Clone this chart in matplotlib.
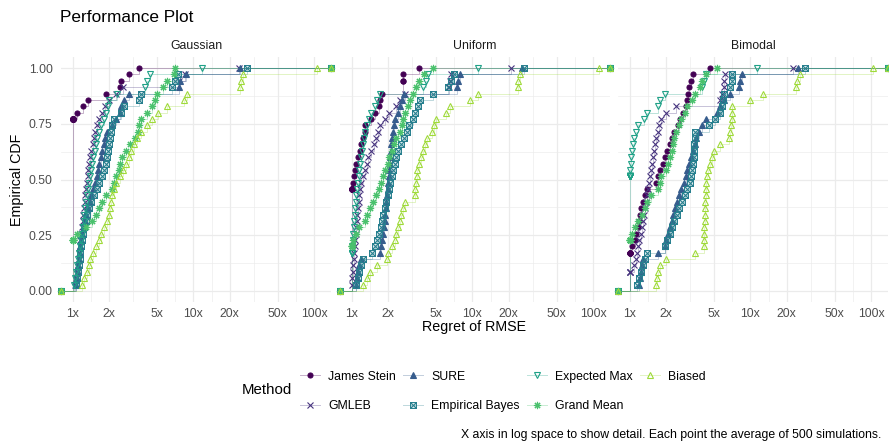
import numpy as np
import matplotlib.pyplot as plt
from matplotlib.lines import Line2D
from matplotlib.path import Path
from matplotlib.ticker import NullFormatter
from matplotlib.legend_handler import HandlerTuple

plt.rcParams['font.family'] = ['Liberation Sans', 'DejaVu Sans']

facets = ["Gaussian", "Uniform", "Bimodal"]
methods = ["James Stein", "GMLEB", "SURE", "Empirical Bayes",
           "Expected Max", "Grand Mean", "Biased"]
colors = ["#440154", "#46337E", "#365C8D", "#277F8E", "#1FA187", "#4AC16D", "#9FDA3A"]

# regret of RMSE per setting (35 settings)
gauss_js = [1.0] * 27 + [1.09, 1.22, 1.34, 1.89, 2.46, 2.50, 2.9, 3.55]
gauss_gmleb = [1.05, 1.07, 1.09, 1.10, 1.12, 1.13, 1.15, 1.16, 1.18, 1.19, 1.21, 1.22,
               1.24, 1.26, 1.27, 1.29, 1.31, 1.33, 1.35, 1.37, 1.40, 1.43, 1.46, 1.50,
               1.54, 1.59, 1.65, 1.75, 1.85, 2.0, 2.3, 2.6, 7.6, 8.5, 24.0]
gauss_sure = [1.07, 1.08, 1.10, 1.11, 1.13, 1.14, 1.16, 1.18, 1.20, 1.23, 1.26, 1.30,
              1.34, 1.38, 1.43, 1.48, 1.53, 1.58, 1.62, 1.66, 1.70, 1.75, 1.80, 1.86,
              1.92, 2.1, 2.3, 2.45, 2.5, 2.65, 2.9, 7.6, 7.8, 8.6, 24.5]
gauss_eb = [1.07, 1.09, 1.11, 1.12, 1.14, 1.16, 1.18, 1.20, 1.22, 1.25, 1.28, 1.32,
            1.37, 1.43, 1.50, 1.58, 1.66, 1.74, 1.82, 1.88, 1.93, 1.96, 1.99, 2.02,
            2.06, 2.12, 2.2, 2.5, 2.65, 3.55, 3.65, 6.6, 7.0, 7.5, 28.0]
gauss_emax = [1.03, 1.05, 1.07, 1.09, 1.11, 1.13, 1.15, 1.17, 1.19, 1.21, 1.23, 1.25,
              1.27, 1.29, 1.31, 1.33, 1.36, 1.39, 1.42, 1.45, 1.48, 1.52, 1.56, 1.60,
              1.66, 1.72, 1.80, 1.88, 1.95, 2.0, 2.35, 4.0, 4.1, 4.4, 11.7]
gauss_gm = [1.0] * 8 + [1.09, 1.3, 1.45, 1.55, 1.65, 1.75, 1.9, 2.1, 2.2, 2.3, 2.4,
                        2.48, 2.56, 2.75, 3.0, 3.3, 3.45, 3.55, 3.7, 4.1, 4.5, 4.8,
                        5.0, 5.6, 6.0, 6.9, 7.05]
gauss_biased = [1.19, 1.25, 1.31, 1.36, 1.40, 1.47, 1.55, 1.64, 1.72, 1.82, 1.92, 1.98,
                2.03, 2.07, 2.12, 2.2, 2.3, 2.45, 2.6, 2.75, 2.9, 3.05, 3.2, 3.4,
                3.7, 4.1, 4.5, 5.1, 6.0, 8.3, 8.8, 24.5, 25.0, 26.0, 105.0]

unif_js = [1.0] * 16 + [1.02, 1.04, 1.06, 1.08, 1.12, 1.17, 1.2, 1.25, 1.28, 1.3,
                        1.45, 1.55, 1.68, 1.73, 1.78, 2.65, 2.65, 2.67, 3.6]
unif_gmleb = [1.0, 1.01, 1.02, 1.03, 1.04, 1.05, 1.06, 1.07, 1.08, 1.09, 1.10, 1.11,
              1.12, 1.14, 1.16, 1.18, 1.2, 1.25, 1.3, 1.33, 1.37, 1.45, 1.52, 1.6,
              1.66, 1.72, 1.9, 2.05, 2.35, 2.5, 2.75, 6.4, 6.5, 6.7, 21.0]
unif_sure = [1.09, 1.11, 1.13, 1.16, 1.2, 1.7, 1.74, 1.78, 1.82, 1.85, 1.88, 1.9,
             1.92, 1.94, 1.96, 1.98, 2.0, 2.02, 2.04, 2.06, 2.08, 2.1, 2.13, 2.16,
             2.2, 2.25, 2.3, 2.4, 2.5, 2.6, 2.7, 7.5, 7.6, 7.9, 26.0]
unif_eb = [1.09, 1.12, 1.16, 1.2, 1.25, 1.46, 1.55, 1.62, 1.68, 1.74, 1.79, 1.83,
           1.88, 1.93, 1.98, 2.03, 2.08, 2.14, 2.2, 2.28, 2.35, 2.43, 2.55, 2.7,
           2.85, 3.0, 3.2, 3.35, 3.55, 3.7, 4.7, 6.3, 6.7, 7.1, 27.0]
unif_emax = [1.0] * 6 + [1.01, 1.02, 1.03, 1.04, 1.05, 1.06, 1.07, 1.08, 1.09, 1.1,
                         1.12, 1.14, 1.16, 1.18, 1.2, 1.22, 1.24, 1.26, 1.3, 1.34,
                         1.38, 1.45, 1.55, 1.62, 1.72, 3.9, 4.1, 4.3, 11.1]
unif_gm = [1.0] * 7 + [1.02, 1.08, 1.15, 1.29, 1.35, 1.42, 1.5, 1.58, 1.68, 1.75,
                       1.82, 1.9, 1.98, 2.05, 2.15, 2.25, 2.35, 2.5, 2.6, 2.68, 2.75,
                       2.9, 3.05, 3.2, 3.4, 3.6, 3.95, 4.7]
unif_biased = [1.25, 1.35, 1.42, 1.61, 1.95, 2.0, 2.15, 2.28, 2.35, 2.42, 2.5, 2.58,
               2.65, 2.75, 3.34, 3.36, 3.4, 3.45, 3.5, 3.6, 3.75, 3.9, 4.05, 4.2,
               4.6, 4.8, 5.0, 6.1, 6.5, 9.5, 11.1, 23.7, 24.0, 25.0, 112.0]

bimod_js = [1.0] * 6 + [1.05, 1.1, 1.13, 1.17, 1.2, 1.22, 1.25, 1.3, 1.34, 1.38,
                        1.65, 1.7, 1.78, 1.9, 1.97, 2.05, 2.15, 2.25, 2.35, 2.5,
                        2.6, 2.75, 2.9, 3.0, 3.05, 3.1, 3.25, 3.35, 4.65]
bimod_gmleb = [1.0, 1.0, 1.0, 1.08, 1.12, 1.15, 1.18, 1.2, 1.23, 1.26, 1.28, 1.31,
               1.33, 1.36, 1.39, 1.42, 1.45, 1.48, 1.51, 1.54, 1.57, 1.6, 1.63, 1.66,
               1.7, 1.74, 1.8, 1.98, 2.4, 5.6, 5.8, 6.0, 6.1, 6.2, 22.7]
bimod_sure = [1.19, 1.21, 1.23, 1.26, 1.3, 1.72, 1.95, 2.0, 2.08, 2.15, 2.22, 2.3,
              2.38, 2.48, 2.58, 2.68, 2.8, 2.9, 3.0, 3.12, 3.25, 3.35, 3.45, 3.55,
              3.75, 4.0, 4.25, 5.3, 5.6, 6.0, 6.8, 8.1, 8.2, 8.5, 25.0]
bimod_eb = [1.16, 1.2, 1.25, 1.3, 1.35, 1.4, 1.95, 2.05, 2.15, 2.25, 2.35, 2.45,
            2.55, 2.7, 2.85, 3.0, 3.15, 3.25, 3.3, 3.35, 3.38, 3.4, 3.42, 3.45,
            3.5, 4.5, 5.1, 5.6, 5.8, 5.9, 6.0, 6.8, 7.0, 7.1, 28.4]
bimod_emax = [1.0] * 18 + [1.01, 1.02, 1.03, 1.04, 1.06, 1.08, 1.12, 1.17, 1.32,
                           1.38, 1.7, 1.78, 1.97, 4.0, 4.1, 4.25, 11.4]
bimod_gm = [1.0] * 8 + [1.05, 1.1, 1.18, 1.27, 1.35, 1.4, 1.5, 1.72, 1.77, 1.82,
                        2.0, 2.08, 2.17, 2.25, 2.3, 2.35, 2.42, 2.55, 2.68, 2.85,
                        3.0, 3.3, 3.5, 3.8, 4.0, 4.3, 5.3]
bimod_biased = [1.64, 1.68, 1.72, 1.78, 1.98, 3.5, 4.1, 4.12, 4.14, 4.16, 4.18, 4.2,
                4.22, 4.24, 4.26, 4.28, 4.3, 4.35, 4.45, 4.6, 4.8, 5.0, 5.6, 6.6,
                6.8, 6.9, 7.0, 7.05, 7.1, 10.0, 12.8, 24.0, 24.5, 25.8, 104.0]

data = {
    "Gaussian": [gauss_js, gauss_gmleb, gauss_sure, gauss_eb, gauss_emax, gauss_gm, gauss_biased],
    "Uniform": [unif_js, unif_gmleb, unif_sure, unif_eb, unif_emax, unif_gm, unif_biased],
    "Bimodal": [bimod_js, bimod_gmleb, bimod_sure, bimod_eb, bimod_emax, bimod_gm, bimod_biased],
}

# square with a cross inside (ggplot shape 7)
sq_cross = Path([(-1, -1), (1, -1), (1, 1), (-1, 1), (-1, -1), (-1, -1), (1, 1), (-1, 1), (1, -1)],
                [Path.MOVETO, Path.LINETO, Path.LINETO, Path.LINETO, Path.CLOSEPOLY,
                 Path.MOVETO, Path.LINETO, Path.MOVETO, Path.LINETO])

# marker, size, filled
styles = [("o", 3.6, True), ("x", 4.2, False), ("^", 4.4, True), (sq_cross, 4.2, False),
          ("v", 4.6, False), ((8, 2, 0), 5.2, False), ("^", 5.0, False)]

W, H = 889, 444
fig = plt.figure(figsize=(W / 100, H / 100), dpi=100)

xlim = (0.80, 138)
lefts = [61, 340, 618]
pw, ptop, pbot = 270, 57, 302

grid_c = "#EBEBEB"
txt_c = "#4D4D4D"
small = 8.8

for i, fac in enumerate(facets):
    ax = fig.add_axes([lefts[i] / W, 1 - pbot / H, pw / W, (pbot - ptop) / H])
    ax.set_xscale("log")
    ax.set_xlim(*xlim)
    ax.set_ylim(-0.05, 1.05)
    for s in ax.spines.values():
        s.set_visible(False)

    ax.set_xticks([1, 2, 5, 10, 20, 50, 100])
    ax.set_xticklabels(["1x", "2x", "5x", "10x", "20x", "50x", "100x"])
    ax.set_xticks([np.sqrt(2), np.sqrt(10), np.sqrt(50), np.sqrt(200),
                   np.sqrt(1000), np.sqrt(5000)], minor=True)
    ax.xaxis.set_minor_formatter(NullFormatter())
    ax.set_yticks([0, 0.25, 0.5, 0.75, 1.0])
    ax.set_yticks([0.125, 0.375, 0.625, 0.875], minor=True)
    ax.set_yticklabels(["0.00", "0.25", "0.50", "0.75", "1.00"])
    ax.grid(which="major", color=grid_c, lw=0.9)
    ax.grid(which="minor", color=grid_c, lw=0.45)
    ax.set_axisbelow(True)
    ax.tick_params(which="both", length=0, labelsize=small, labelcolor=txt_c)
    ax.tick_params(axis="x", pad=4)
    ax.tick_params(axis="y", pad=6)
    if i > 0:
        ax.tick_params(axis="y", labelleft=False)

    ax.set_title(fac, fontsize=small, color="#1A1A1A", pad=5.5)

    curves = []
    for j, vals in enumerate(data[fac]):
        v = np.sort(np.array(vals, dtype=float))
        y = np.searchsorted(v, v, side="right") / len(v)
        xs = np.concatenate([[xlim[0]], v, [xlim[1]]])
        ys = np.concatenate([[0.0], y, [1.0]])
        curves.append((xs, ys))
        ax.step(xs, ys, where="post", color=colors[j], alpha=0.3, lw=0.7)
    for j, (xs, ys) in enumerate(curves):
        m, ms, filled = styles[j]
        ax.plot(xs, ys, ls="none", marker=m, ms=ms, color=colors[j],
                mfc=colors[j] if filled else "none", mec=colors[j], mew=0.8,
                clip_on=False)

fig.text(60 / W, 1 - 17 / H, "Performance Plot", fontsize=12.4, color="black",
         ha="left", va="center")
fig.text(17 / W, 1 - 180 / H, "Empirical CDF", fontsize=10.3, rotation=90,
         ha="center", va="center")
fig.text(474 / W, 1 - 327 / H, "Regret of RMSE", fontsize=10.3, ha="center", va="center")
fig.text(881 / W, 1 - 435 / H,
         "X axis in log space to show detail. Each point the average of 500 simulations.",
         fontsize=small, ha="right", va="center")
fig.text(242 / W, 1 - 390 / H, "Method", fontsize=10.8, ha="left", va="center")

handles = []
for j in range(len(methods)):
    m, ms, filled = styles[j]
    ln = Line2D([], [], color=colors[j], alpha=0.3, lw=0.7)
    pt = Line2D([], [], ls="none", marker=m, ms=ms, color=colors[j],
                mfc=colors[j] if filled else "none", mec=colors[j], mew=0.8)
    handles.append((ln, pt))

fig.legend(handles, methods, ncol=4, loc="center left",
           bbox_to_anchor=(300 / W, 1 - 391.5 / H), frameon=False,
           fontsize=small, handlelength=1.6, handletextpad=0.7, columnspacing=0.6,
           labelspacing=1.45, borderpad=0, borderaxespad=0,
           handler_map={tuple: HandlerTuple(ndivide=1)})

fig.savefig("out.png", dpi=100)
